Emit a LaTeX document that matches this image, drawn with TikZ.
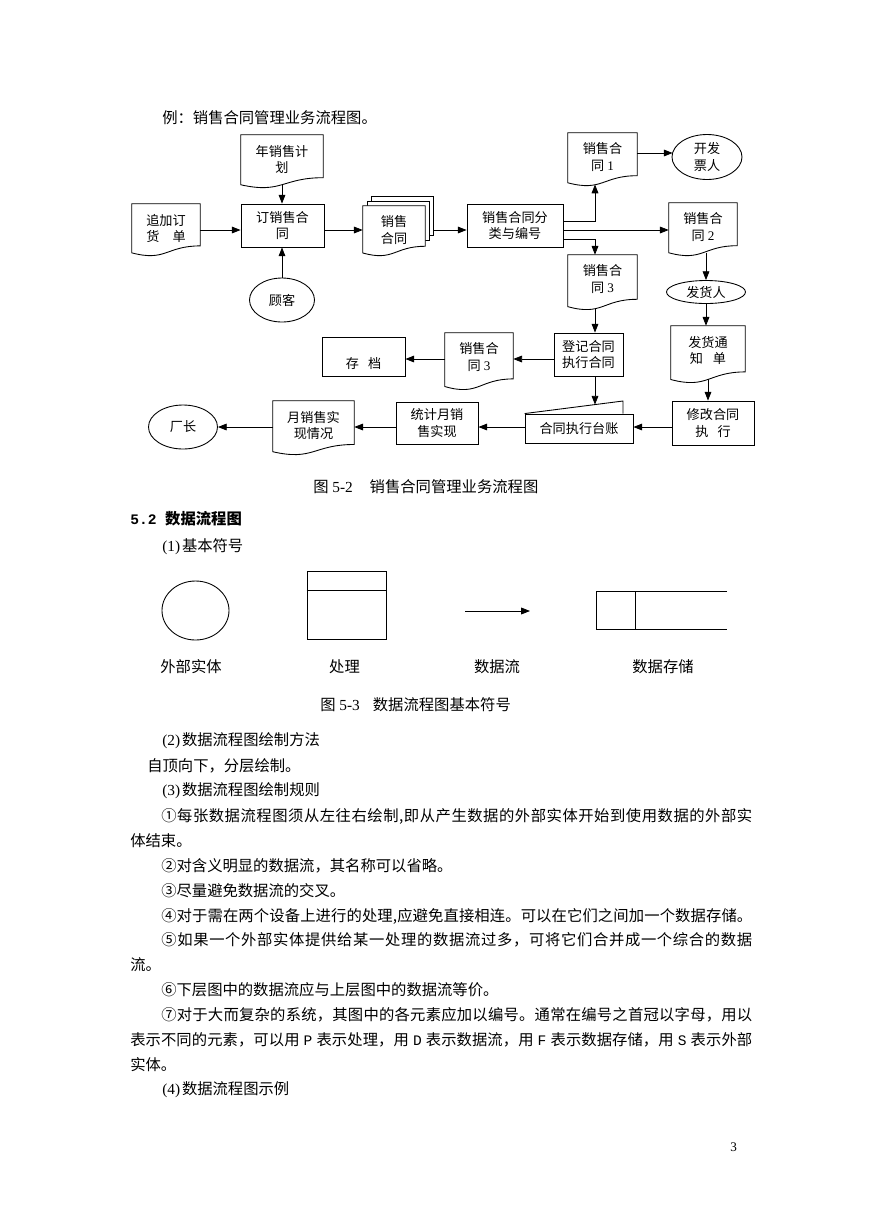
\documentclass[tikz,border=0pt]{standalone}
\usepackage{fontspec}
\setmainfont{Noto Sans CJK SC}
\newfontfamily\lat{Liberation Serif}
\newfontfamily\mono{Liberation Mono}[Scale=0.95]
\usetikzlibrary{shapes.geometric,arrows.meta,calc}

\newcommand\U{0.6851pt}
\newcommand\bodyfont{\fontsize{10.5}{12}\selectfont}
\newcommand\diagfont{\fontsize{9}{11}\selectfont}
\newcommand\pl[1]{\makebox[1.1em]{\mono #1}}
\newcommand\pn[1]{{\lat (#1)}\hspace{0.12em}}

\ExplSyntaxOn
\bool_new:N \l_my_first_bool
\NewDocumentCommand \jt { m m }
  {
    \hbox_to_wd:nn {#1}
      {
        \bool_set_true:N \l_my_first_bool
        \tl_map_inline:nn {#2}
          {
            \bool_if:NTF \l_my_first_bool
              { \bool_set_false:N \l_my_first_bool }
              { \hfil }
            ##1
          }
      }
  }
\ExplSyntaxOff

\tikzset{
  sl/.style={draw, line width=0.6pt},
  rbox/.style={sl, fill=white, inner sep=0pt, align=center, font=\diagfont},
  dframe/.style={inner sep=0pt, draw=none},
  dtext/.style={inner sep=0pt, align=center, font=\diagfont},
  ell/.style={sl, ellipse, fill=white, inner sep=0pt, align=center, font=\diagfont},
  arr/.style={line width=0.55pt, -{Triangle[length=6pt,width=4.6pt]}},
  body/.style={anchor=west, inner sep=0pt, font=\bodyfont},
  lbl/.style={inner sep=0pt, font=\bodyfont},
}

\newcommand\docdraw[1]{%
  \draw[sl, fill=white] (#1.north west) -- (#1.north east)
    -- ($(#1.north east)!0.802!(#1.south east)$)
    .. controls ($(#1.north)!0.802!(#1.south)$) and ($(#1.north)!1.1075!(#1.south)$)
    .. ($(#1.north west)!0.934!(#1.south west)$) -- cycle;}

% rectangle: name l t r b text
\newcommand\rbx[6]{\node[rbox, minimum width={(#4-#2)*\U}, minimum height={(#5-#3)*\U}] (#1) at ({(#2+#4)/2},{(#3+#5)/2}) {#6};}
% document: name l t r h text
\newcommand\dbx[6]{%
  \node[dframe, minimum width={(#4-#2)*\U}, minimum height={#5*\U}] (#1) at ({(#2+#4)/2},{#3+#5/2}) {};
  \docdraw{#1}
  \coordinate (#1-b) at ($(#1.north)!0.933!(#1.south)$);
  \node[dtext] (#1-t) at ({(#2+#4)/2},{#3+24}) {#6};}

\begin{document}
\begin{tikzpicture}[x=0.6851pt, y=-0.6851pt]
\fill[white] (0,0) rectangle (869,1228);
\useasboundingbox (0,0) rectangle (869,1228);

% ---------- title
\node[body] (t0) at (162,118) {例：销售合同管理业务流程图。};

% ---------- business flow chart
\dbx{nj}{241}{135}{323}{53}{年销售计\\划}
\dbx{zj}{132}{204}{200}{52}{追加订\\货\hspace{1em}单}
\rbx{dx}{241}{204}{324}{247}{订销售合\\同}
\node[ell, minimum width={65*\U}, minimum height={44*\U}] (gk) at (282,300) {顾客};

\node[rbox, minimum width={62*\U}, minimum height={39*\U}] (sh3) at ({(371+433)/2},{(196+235)/2}) {};
\node[rbox, minimum width={62*\U}, minimum height={39*\U}] (sh2) at ({(367+429)/2},{(201+240)/2}) {};
\dbx{sh}{363}{206}{425}{50}{销售\\合同}

\rbx{fl}{467}{204}{563}{247}{销售合同分\\类与编号}
\dbx{d1}{568}{133}{637}{53}{销售合\\同{\lat\ 1}}
\node[ell, minimum width={70*\U}, minimum height={45*\U}] (kf) at (707,157) {开发\\票人};
\dbx{d2}{669}{203}{737}{53}{销售合\\同{\lat\ 2}}
\dbx{d3}{568}{255}{637}{55}{销售合\\同{\lat\ 3}}
\node[ell, minimum width={79*\U}, minimum height={23*\U}] (fr) at (706,292) {发货人};
\dbx{fh}{671}{326}{745}{57}{发货通\\知\hspace{0.75em}单}

\rbx{dj}{554}{333}{623}{376}{登记合同\\执行合同}
\dbx{d4}{445}{333}{513}{57}{销售合\\同{\lat\ 3}}
\rbx{cd}{322}{337}{405}{376}{}
\node[dtext] (cd-t) at (363.5,363) {存\hspace{0.7em}档};

\rbx{xg}{672}{401}{754}{445}{修改合同\\执\hspace{0.7em}行}
\coordinate (tzf) at (623,401);
\node[rbox, minimum width={108*\U}, minimum height={29*\U}] (tz) at ({(525+633)/2},{(414+443)/2}) {合同执行台账};
\draw[sl] (tz.north west) -- (tzf) -- (tzf |- tz.north);
\rbx{tj}{396}{402}{478}{444}{统计月销\\售实现}
\dbx{yx}{273}{401}{354}{54}{月销售实\\现情况}
\node[ell, minimum width={69*\U}, minimum height={44*\U}] (cz) at (183,427) {厂长};

% connectors
\coordinate (d1x) at (595,184.5);
\coordinate (d3x) at (595,308.5);
\coordinate (tzx) at (595,404.6);
\draw[arr] (zj.east |- 0,230) -- (dx.west |- 0,230);
\draw[arr] (nj-b) -- (nj-b |- dx.north);
\draw[arr] (gk.north) -- (gk.north |- dx.south);
\draw[arr] (dx.east |- 0,230) -- (sh.west |- 0,230);
\draw[arr] (sh3.east |- 0,230) -- (fl.west |- 0,230);
\draw[arr] (fl.east |- 0,221) -| (d1x);
\draw[arr] (fl.east |- 0,230) -- (d2.west |- 0,230);
\draw[arr] (fl.east |- 0,239) -| (d1x |- d3.north);
\draw[arr] (d1.east |- 0,153) -- (672.6,153) coordinate (kfw);
\draw[arr] (fr.north |- d2-b) -- (fr.north);
\draw[arr] (fr.south) -- (fr.south |- fh.north);
\draw[arr] (fh-b) -- (fh-b |- xg.north);
\draw[arr] (d3x) -- (d3x |- dj.north);
\draw[arr] (dj.west |- 0,359) -- (d4.east |- 0,359);
\draw[arr] (d4.west |- 0,359) -- (cd.east |- 0,359);
\draw[arr] (d3x |- dj.south) -- (tzx);
\draw[arr] (xg.west |- 0,427) -- (tz.east |- 0,427);
\draw[arr] (tz.west |- 0,427) -- (tj.east |- 0,427);
\draw[arr] (tj.west |- 0,427) -- (yx.east |- 0,427);
\draw[arr] (yx.west |- 0,427) -- (cz.east);

\node[body] (cap1) at (313,487) {图{\lat\ 5-2}\hspace{1.1em}销售合同管理业务流程图};

% ---------- section 5.2
\node[body] (h52) at (130,519) {\bfseries{\mono 5.2 }数据流程图};
\node[body] (s1) at (162,547) {\pn{1}基本符号};

\node[sl, ellipse, inner sep=0pt, minimum width={67*\U}, minimum height={59*\U}] (se) at (195.5,610.5) {};
\rbx{pr}{307}{571}{386}{639}{}
\draw[sl] (pr.west |- 0,590) -- (pr.east |- 0,590);
\coordinate (fa) at (465,611);
\coordinate (fb) at (530,611);
\draw[arr] (fa) -- (fb);
\coordinate (sa) at (727,591);
\coordinate (sb) at (596,591);
\coordinate (sc) at (596,629);
\coordinate (sd) at (727,629);
\coordinate (se1) at (635,591);
\coordinate (se2) at (635,629);
\draw[sl] (sa) -- (sb) -- (sc) -- (sd);
\draw[sl] (se1) -- (se2);

\node[lbl] (l1) at (191,667) {外部实体};
\node[lbl] (l2) at (344.5,667) {处理};
\node[lbl] (l3) at (497,667) {数据流};
\node[lbl] (l4) at (663,667) {数据存储};

\node[body] (cap2) at (320,705) {图{\lat\ 5-3}\hspace{0.85em}数据流程图基本符号};

% ---------- body text
\node[body] (p2) at (162,741) {\pn{2}数据流程图绘制方法};
\node[body] (p2a) at (147,766) {自顶向下，分层绘制。};
\node[body] (p3) at (162,791) {\pn{3}数据流程图绘制规则};
\node[body] (r1) at (161,816) {\jt{404.9pt}{①每张数据流程图须从左往右绘制,即从产生数据的外部实体开始到使用数据的外部实}};
\node[body] (r1b) at (130,841) {体结束。};
\node[body] (r2) at (161,866) {②对含义明显的数据流，其名称可以省略。};
\node[body] (r3) at (161,891) {③尽量避免数据流的交叉。};
\node[body] (r4) at (161,916) {\jt{404.9pt}{④对于需在两个设备上进行的处理,应避免直接相连。可以在它们之间加一个数据存储。}};
\node[body] (r5) at (161,940) {\jt{404.9pt}{⑤如果一个外部实体提供给某一处理的数据流过多，可将它们合并成一个综合的数据}};
\node[body] (r5b) at (130,965) {流。};
\node[body] (r6) at (161,990) {⑥下层图中的数据流应与上层图中的数据流等价。};
\node[body] (r7) at (161,1015) {\jt{404.9pt}{⑦对于大而复杂的系统，其图中的各元素应加以编号。通常在编号之首冠以字母，用以}};
\node[body] (r7b) at (130,1040) {\jt{426.1pt}{表示不同的元素，可以用{\pl{P}}表示处理，用{\pl{D}}表示数据流，用{\pl{F}}表示数据存储，用{\pl{S}}表示外部}};
\node[body] (r7c) at (130,1065) {实体。};
\node[body] (p4) at (162,1090) {\pn{4}数据流程图示例};

\node[body] (pg) at (730,1147) {\lat\fontsize{9}{10}\selectfont 3};
\end{tikzpicture}
\end{document}
